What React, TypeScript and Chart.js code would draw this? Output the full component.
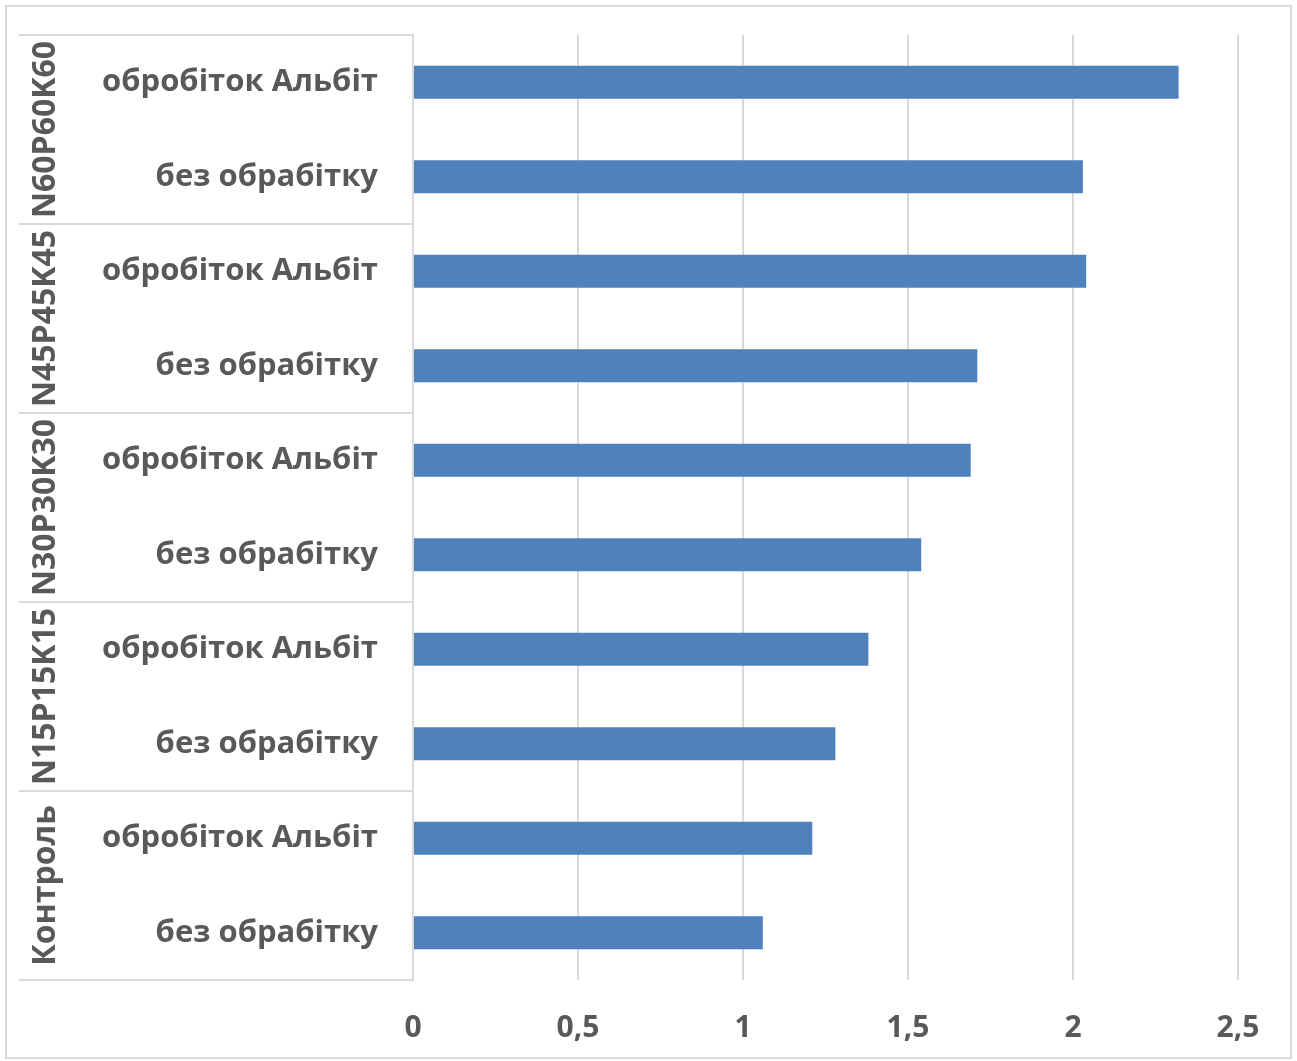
import React, { useEffect, useRef } from "react";
import { Chart, registerables } from "chart.js";

Chart.register(...registerables);

const groups = ["N60P60K60", "N45P45K45", "N30P30K30", "N15P15K15", "Контроль"];
const treatments = ["обробіток Альбіт", "без обрабітку"];
const values = [2.32, 2.03, 2.04, 1.71, 1.69, 1.54, 1.38, 1.28, 1.21, 1.06];
const xTicks = [0, 0.5, 1, 1.5, 2, 2.5];

const labels = groups.flatMap(() => treatments);

const FONT = "'Open Sans'";
const TEXT = "#595959";
const LINE = "#d9d9d9";

const decorPlugin = {
  id: "decor",
  beforeDraw(chart: any) {
    const ctx = chart.ctx;
    ctx.save();
    ctx.fillStyle = "#ffffff";
    ctx.fillRect(0, 0, chart.width, chart.height);
    ctx.strokeStyle = LINE;
    ctx.lineWidth = 2;
    ctx.strokeRect(6, 6, 1285, 1052);
    ctx.restore();
  },
  afterDraw(chart: any) {
    const ctx = chart.ctx;
    const y = chart.scales.y;
    const left = chart.chartArea.left;
    ctx.save();
    ctx.strokeStyle = LINE;
    ctx.lineWidth = 2;
    for (let k = 0; k <= groups.length; k++) {
      const py = Math.round(y.getPixelForValue(k * 2 - 0.5));
      ctx.beginPath();
      ctx.moveTo(19, py);
      ctx.lineTo(left, py);
      ctx.stroke();
    }
    ctx.fillStyle = TEXT;
    ctx.font = `bold 32px ${FONT}`;
    ctx.textAlign = "center";
    ctx.textBaseline = "middle";
    groups.forEach((g, k) => {
      const cy = y.getPixelForValue(k * 2 + 0.5);
      ctx.save();
      ctx.translate(46, cy);
      ctx.rotate(-Math.PI / 2);
      ctx.fillText(g, 0, 0);
      ctx.restore();
    });
    ctx.restore();
  },
};

export default function App() {
  const ref = useRef<HTMLCanvasElement | null>(null);
  useEffect(() => {
    document.body.style.margin = "0";
    const chart = new Chart(ref.current as HTMLCanvasElement, {
      type: "bar",
      data: {
        labels,
        datasets: [
          {
            data: values,
            backgroundColor: "#4f81bd",
            borderWidth: 0,
            barPercentage: 0.35,
            categoryPercentage: 1,
          },
        ],
      },
      options: {
        indexAxis: "y",
        animation: false,
        responsive: false,
        layout: { padding: { top: 35, right: 59, left: 0, bottom: 0 } },
        plugins: { legend: { display: false }, tooltip: { enabled: false } },
        scales: {
          x: {
            min: 0,
            max: 2.5,
            afterBuildTicks: (s: any) => {
              s.ticks = xTicks.map((v) => ({ value: v }));
            },
            afterFit: (s: any) => {
              s.height = 81;
              s.paddingLeft = 0;
              s.paddingRight = 0;
            },
            grid: { color: LINE, lineWidth: 2, drawTicks: false },
            border: { display: false },
            ticks: {
              padding: 30,
              color: TEXT,
              font: { family: FONT, size: 30, weight: "bold" },
              callback: (v: any) => String(v).replace(".", ","),
              maxRotation: 0,
            },
          },
          y: {
            afterFit: (s: any) => {
              s.width = 413;
              s.paddingTop = 0;
              s.paddingBottom = 0;
            },
            grid: { display: false, drawTicks: false },
            border: { display: true, color: LINE, width: 2 },
            ticks: {
              padding: 35,
              color: TEXT,
              font: { family: FONT, size: 31, weight: "bold" },
              autoSkip: false,
            },
          },
        },
      },
      plugins: [decorPlugin],
    } as any);
    return () => chart.destroy();
  }, []);
  return (
    <div style={{ width: 1297, height: 1061 }}>
      <canvas ref={ref} width={1297} height={1061} style={{ display: "block" }} />
    </div>
  );
}
